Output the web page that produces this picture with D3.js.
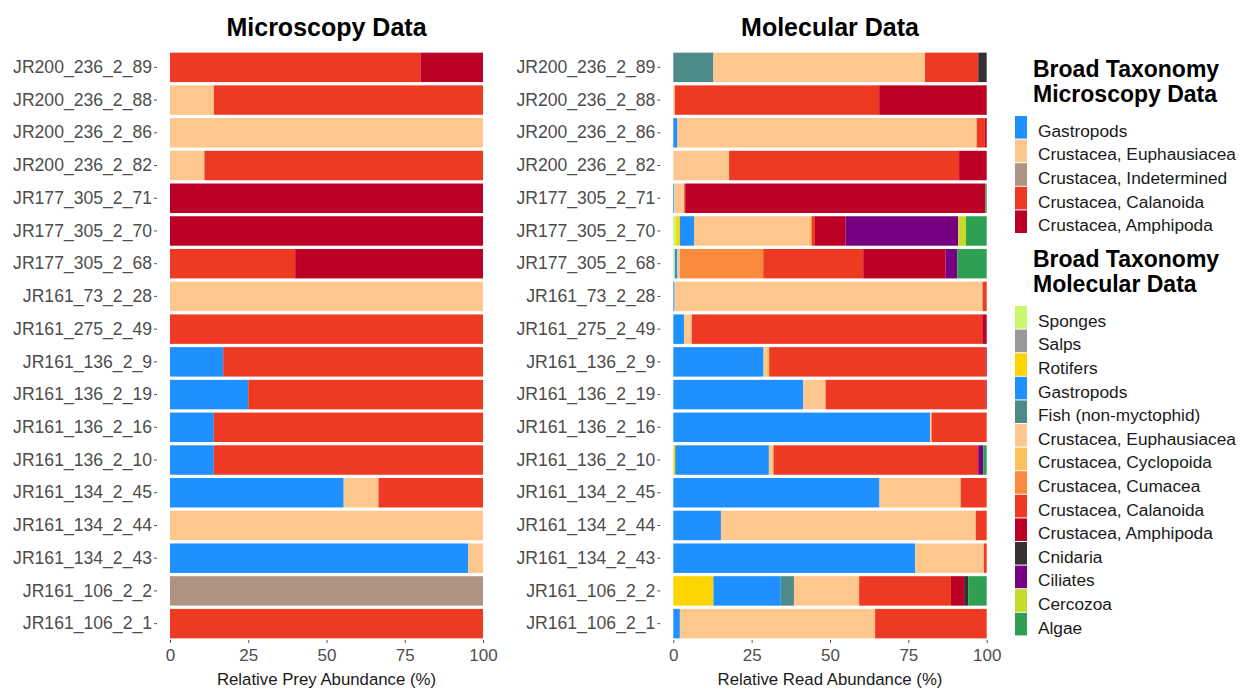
<!DOCTYPE html>
<html>
<head>
<meta charset="utf-8">
<script src="https://cdn.jsdelivr.net/npm/d3@7"></script>
<style>
  body { margin: 0; background: #fff; }
  svg { font-family: "Liberation Sans", Arial, Helvetica, sans-serif; }
</style>
</head>
<body>
<svg></svg>
<script>
// sample ids, top to bottom
let samples = ['JR200_236_2_89', 'JR200_236_2_88', 'JR200_236_2_86', 'JR200_236_2_82',
    'JR177_305_2_71', 'JR177_305_2_70', 'JR177_305_2_68', 'JR161_73_2_28',
    'JR161_275_2_49', 'JR161_136_2_9', 'JR161_136_2_19', 'JR161_136_2_16',
    'JR161_136_2_10', 'JR161_134_2_45', 'JR161_134_2_44', 'JR161_134_2_43',
    'JR161_106_2_2', 'JR161_106_2_1'];

let xTicks = [0, 25, 50, 75, 100];

// microscopy taxa (stack order, left to right)
let microTaxa = ['Gastropods', 'Crustacea, Euphausiacea', 'Crustacea, Indetermined',
    'Crustacea, Calanoida', 'Crustacea, Amphipoda'];
let microColors = ['#1e90ff', '#fdc78d', '#ae9282', '#ee3a22', '#bc0025'];

// microscopy values per taxon (%)
let microGastropods = [0, 0, 0, 0, 0, 0, 0, 0, 0, 17, 25, 14, 14, 55.5, 0, 95.3, 0, 0];
let microEuphausiacea = [0, 14, 100, 11, 0, 0, 0, 100, 0, 0, 0, 0, 0, 11.1, 100, 4.7, 0, 0];
let microIndetermined = [0, 0, 0, 0, 0, 0, 0, 0, 0, 0, 0, 0, 0, 0, 0, 0, 100, 0];
let microCalanoida = [80, 86, 0, 89, 0, 0, 40, 0, 100, 83, 75, 86, 86, 33.4, 0, 0, 0, 100];
let microAmphipoda = [20, 0, 0, 0, 100, 100, 60, 0, 0, 0, 0, 0, 0, 0, 0, 0, 0, 0];

// molecular taxa (stack order, left to right)
let molTaxa = ['Sponges', 'Salps', 'Rotifers', 'Gastropods', 'Fish (non-myctophid)',
    'Crustacea, Euphausiacea', 'Crustacea, Cyclopoida', 'Crustacea, Cumacea',
    'Crustacea, Calanoida', 'Crustacea, Amphipoda', 'Cnidaria', 'Ciliates',
    'Cercozoa', 'Algae'];
let molColors = ['#c9f76f', '#999999', '#fdd602', '#1e90ff', '#4d8b89', '#fdc78d',
    '#fdc15c', '#fc8a3c', '#ee3a22', '#bc0025', '#363034', '#770080', '#c6da2e', '#2fa052'];

// molecular values per taxon (%)
let molSponges = [0, 0, 0, 0, 0, 0.9, 0.5, 0, 0, 0, 0, 0, 0, 0, 0, 0, 0, 0];
let molSalps = [0, 0, 0, 0, 0, 0, 0, 0, 0, 0, 0, 0, 0, 0, 0, 0, 0, 0];
let molRotifers = [0, 0, 0, 0, 0, 1.2, 0, 0, 0, 0, 0, 0, 0.6, 0, 0, 0, 12.8, 0];
let molGastropods = [0, 0, 1.3, 0, 0.3, 4.5, 0.8, 0.4, 3.4, 28.8, 41.5, 81.9, 29.9, 65.8, 15.2, 77.2, 21.5, 2.1];
let molFish = [12.8, 0, 0, 0, 0, 0, 0, 0, 0, 0, 0, 0, 0, 0, 0, 0, 4.2, 0];
let molEuphausiacea = [67.5, 0.5, 95.5, 17.8, 3.2, 36.6, 0.8, 98.3, 2.5, 1.0, 7.1, 0.5, 0.9, 25.9, 81.3, 21.9, 20.8, 62.3];
let molCyclopoida = [0, 0, 0, 0, 0, 0.9, 0, 0, 0, 0.8, 0, 0, 0.6, 0, 0, 0, 0, 0];
let molCumacea = [0, 0, 0, 0, 0, 0, 26.6, 0, 0, 0, 0, 0, 0, 0, 0, 0, 0, 0];
let molCalanoida = [17.0, 65.2, 2.6, 73.4, 0.3, 1.1, 31.9, 1.3, 92.7, 69.0, 51.0, 17.6, 65.3, 8.3, 3.5, 0.9, 29.3, 35.6];
let molAmphipoda = [0, 34.3, 0.6, 8.8, 95.8, 9.8, 26.3, 0, 1.4, 0.4, 0.4, 0, 0, 0, 0, 0, 4.2, 0];
let molCnidaria = [2.7, 0, 0, 0, 0, 0, 0, 0, 0, 0, 0, 0, 0, 0, 0, 0, 1.3, 0];
let molCiliates = [0, 0, 0, 0, 0, 35.9, 3.7, 0, 0, 0, 0, 0, 1.6, 0, 0, 0, 0, 0];
let molCercozoa = [0, 0, 0, 0, 0, 2.5, 0, 0, 0, 0, 0, 0, 0, 0, 0, 0, 0, 0];
let molAlgae = [0, 0, 0, 0, 0.4, 6.6, 9.4, 0, 0, 0, 0, 0, 1.1, 0, 0, 0, 5.9, 0];

let width = 1242, height = 691;
let svg = d3.select('svg').attr('width', width).attr('height', height);

// build row objects for d3.stack
let buildRows = (taxa, series) => samples.map((s, i) => {
    let row = { sample: s };
    taxa.forEach((t, j) => { row[t] = series[j][i]; });
    return row;
});

let microRows = buildRows(microTaxa, [microGastropods, microEuphausiacea, microIndetermined,
    microCalanoida, microAmphipoda]);
let molRows = buildRows(molTaxa, [molSponges, molSalps, molRotifers, molGastropods, molFish,
    molEuphausiacea, molCyclopoida, molCumacea, molCalanoida, molAmphipoda, molCnidaria,
    molCiliates, molCercozoa, molAlgae]);

let yScale = d3.scaleBand().domain(samples).range([51, 640]).paddingInner(0.1).paddingOuter(0.05);

// Draw one panel
let drawPanel = (x0, x1, title, xTitle, taxa, colors, rows) => {
    let xScale = d3.scaleLinear().domain([0, 100]).range([x0, x1]);
    let color = d3.scaleOrdinal().domain(taxa).range(colors);
    let stacked = d3.stack().keys(taxa)(rows);
    let g = svg.append('g');

    g.selectAll('g.layer')
        .data(stacked)
        .enter()
        .append('g')
        .attr('class', 'layer')
        .attr('fill', (d) => color(d.key))
        .selectAll('rect')
        .data((d) => d)
        .enter()
        .append('rect')
        .attr('x', (d) => xScale(d[0]))
        .attr('width', (d) => Math.max(0, xScale(d[1]) - xScale(d[0])))
        .attr('y', (d) => yScale(d.data.sample))
        .attr('height', yScale.bandwidth());

    // y axis
    let yAxis = d3.axisLeft(yScale).tickSize(3).tickPadding(2);
    let ya = g.append('g').attr('transform', `translate(${x0 - 13}, 0)`).call(yAxis);
    ya.select('.domain').remove();
    ya.selectAll('line').attr('stroke', '#555');
    ya.selectAll('text').attr('fill', '#4d4d4d').style('font-size', '17.6px');

    // x axis
    let xAxis = d3.axisBottom(xScale).tickValues(xTicks).tickSize(3).tickPadding(6);
    let xa = g.append('g').attr('transform', `translate(0, ${640})`).call(xAxis);
    xa.select('.domain').remove();
    xa.selectAll('line').attr('stroke', '#555');
    xa.selectAll('text').attr('fill', '#4d4d4d').style('font-size', '17px');

    g.append('text')
        .attr('x', (x0 + x1) / 2).attr('y', 685)
        .attr('text-anchor', 'middle')
        .style('font-size', '16.8px').attr('fill', '#1a1a1a')
        .text(xTitle);

    g.append('text')
        .attr('x', (x0 + x1) / 2).attr('y', 36)
        .attr('text-anchor', 'middle')
        .style('font-size', '25px').style('font-weight', 'bold')
        .text(title);
};

drawPanel(170, 483, 'Microscopy Data', 'Relative Prey Abundance (%)', microTaxa, microColors, microRows);
drawPanel(673.3, 986.7, 'Molecular Data', 'Relative Read Abundance (%)', molTaxa, molColors, molRows);

// Legends
let drawLegend = (top, titleLines, taxa, colors) => {
    let g = svg.append('g');
    titleLines.forEach((t, i) => {
        g.append('text')
            .attr('x', 1033).attr('y', top + i * 25)
            .style('font-size', '23px').style('font-weight', 'bold')
            .text(t);
    });
    let keyTop = top + 39;
    let keyH = 23.6;
    let items = g.selectAll('g.item')
        .data(taxa)
        .enter()
        .append('g')
        .attr('transform', (d, i) => `translate(1015, ${keyTop + i * keyH})`);
    items.append('rect')
        .attr('width', 12).attr('height', keyH - 1)
        .attr('fill', (d, i) => colors[i]);
    items.append('text')
        .attr('x', 23).attr('y', keyH / 2 + 9)
        .style('font-size', '17.3px').attr('fill', '#1a1a1a')
        .text((d) => d);
};

drawLegend(77, ['Broad Taxonomy', 'Microscopy Data'], microTaxa, microColors);
drawLegend(267, ['Broad Taxonomy', 'Molecular Data'], molTaxa, molColors);
</script>
</body>
</html>
